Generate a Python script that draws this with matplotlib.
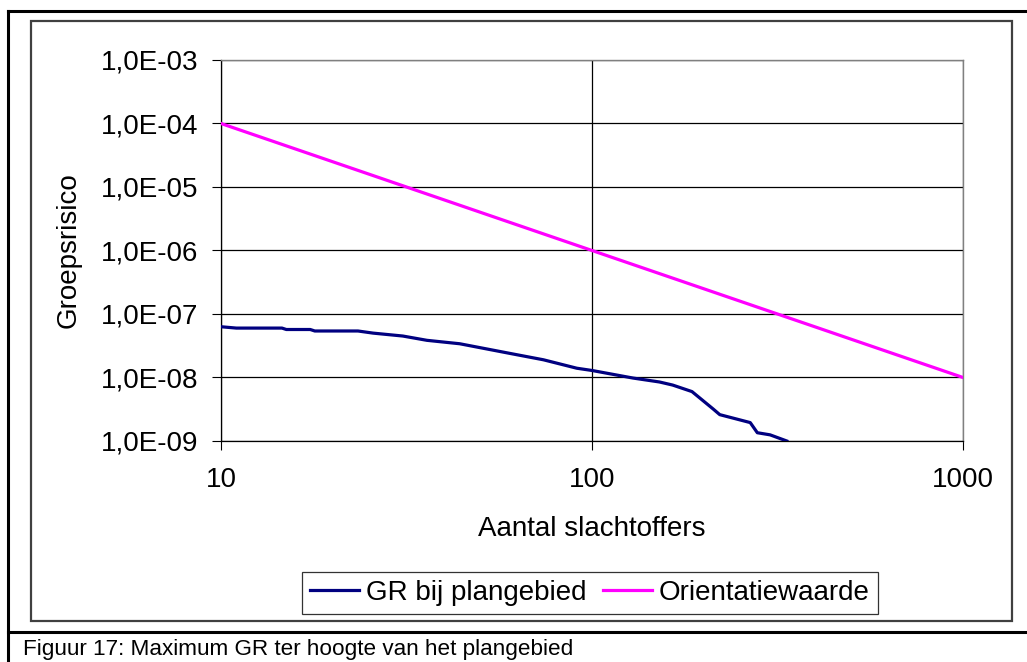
import matplotlib
matplotlib.use("Agg")
import matplotlib.pyplot as plt
import matplotlib.ticker as mticker
from matplotlib.patches import Rectangle
from matplotlib.lines import Line2D

plt.rcParams['font.family'] = ['Liberation Sans', 'DejaVu Sans']

# ---- data ----
n_plan = [10, 11, 14.6, 15, 17.4, 17.9, 23.4, 25.7, 30.9, 35.9, 44, 60, 74, 91,
          100, 129, 152, 165, 186, 212, 221, 267, 279, 302, 335]
gr_plan = [6.3e-8, 6.0e-8, 6.0e-8, 5.7e-8, 5.7e-8, 5.4e-8, 5.4e-8, 5.0e-8, 4.5e-8,
           3.85e-8, 3.4e-8, 2.4e-8, 1.9e-8, 1.4e-8, 1.29e-8, 9.8e-9, 8.5e-9, 7.6e-9,
           6.0e-9, 3.2e-9, 2.6e-9, 1.95e-9, 1.35e-9, 1.25e-9, 1.0e-9]
n_orient = [10, 1000]
gr_orient = [1e-4, 1e-8]

series_names = ['GR bij plangebied', 'Orientatiewaarde']
x_ticks = [10, 100, 1000]
x_tick_labels = ['10', '100', '1000']
y_ticks = [1e-9, 1e-8, 1e-7, 1e-6, 1e-5, 1e-4, 1e-3]
y_tick_labels = ['1,0E-09', '1,0E-08', '1,0E-07', '1,0E-06', '1,0E-05', '1,0E-04', '1,0E-03']
x_label = 'Aantal slachtoffers'
y_label = 'Groepsrisico'
caption = 'Figuur 17: Maximum GR ter hoogte van het plangebied'

# ---- figure ----
W, H = 1027, 662
fig = plt.figure(figsize=(W / 100, H / 100), dpi=100)
fig.patch.set_facecolor('white')

ax = fig.add_axes([221 / W, 1 - 441 / H, (963 - 221) / W, (441 - 60) / H])
ax.set_xscale('log')
ax.set_yscale('log')
ax.set_xlim(10, 1000)
ax.set_ylim(1e-9, 1e-3)

ax.plot(n_plan, gr_plan, color='#000080', lw=2.3, label=series_names[0],
        solid_joinstyle='round', zorder=3)
ax.plot(n_orient, gr_orient, color='#FF00FF', lw=2.3, label=series_names[1], zorder=3)

ax.set_xticks(x_ticks)
ax.set_xticklabels(x_tick_labels)
ax.set_yticks(y_ticks)
ax.set_yticklabels(y_tick_labels)
ax.xaxis.set_minor_locator(mticker.NullLocator())
ax.yaxis.set_minor_locator(mticker.NullLocator())

ax.tick_params(axis='x', direction='out', length=6.5, width=0.8, pad=12,
               labelsize=20, colors='black')
ax.tick_params(axis='y', direction='out', length=6.5, width=0.8, pad=10,
               labelsize=20, colors='black')

ax.grid(True, which='major', color='black', lw=0.9)

for s in ['left', 'bottom']:
    ax.spines[s].set_color('black')
    ax.spines[s].set_linewidth(0.9)
for s in ['top', 'right']:
    ax.spines[s].set_color('#808080')
    ax.spines[s].set_linewidth(1.0)

fig.text(69 / W, 1 - 250 / H, y_label, rotation=90, ha='center', va='center', fontsize=20)
fig.text(592 / W, 1 - 529 / H, x_label, ha='center', va='center', fontsize=20)

leg = fig.legend(loc='center', bbox_to_anchor=(590 / W, 1 - 593 / H), ncol=2,
                 fontsize=20, frameon=True, fancybox=False, shadow=False,
                 handlelength=1.76, handletextpad=0.25, columnspacing=0.58,
                 borderpad=0.3, borderaxespad=0)
leg.get_frame().set_edgecolor('black')
leg.get_frame().set_linewidth(0.9)

# chart area frame
fig.patches.append(Rectangle((31 / W, 1 - 621 / H), (1012 - 31) / W, (621 - 21) / H,
                             transform=fig.transFigure, fill=False,
                             edgecolor='#404040', lw=1.6))
# outer document frame lines
fig.lines.append(Line2D([8 / W, 1], [1 - 11 / H, 1 - 11 / H], transform=fig.transFigure,
                        color='black', lw=2.2))
fig.lines.append(Line2D([8 / W, 8 / W], [0, 1 - 11 / H], transform=fig.transFigure,
                        color='black', lw=2.2))
fig.lines.append(Line2D([8 / W, 1], [1 - 632 / H, 1 - 632 / H], transform=fig.transFigure,
                        color='black', lw=2.2))

fig.text(23 / W, 1 - 660 / H, caption, ha='left', va='bottom', fontsize=16.2)

fig.savefig('out.png', dpi=100)
